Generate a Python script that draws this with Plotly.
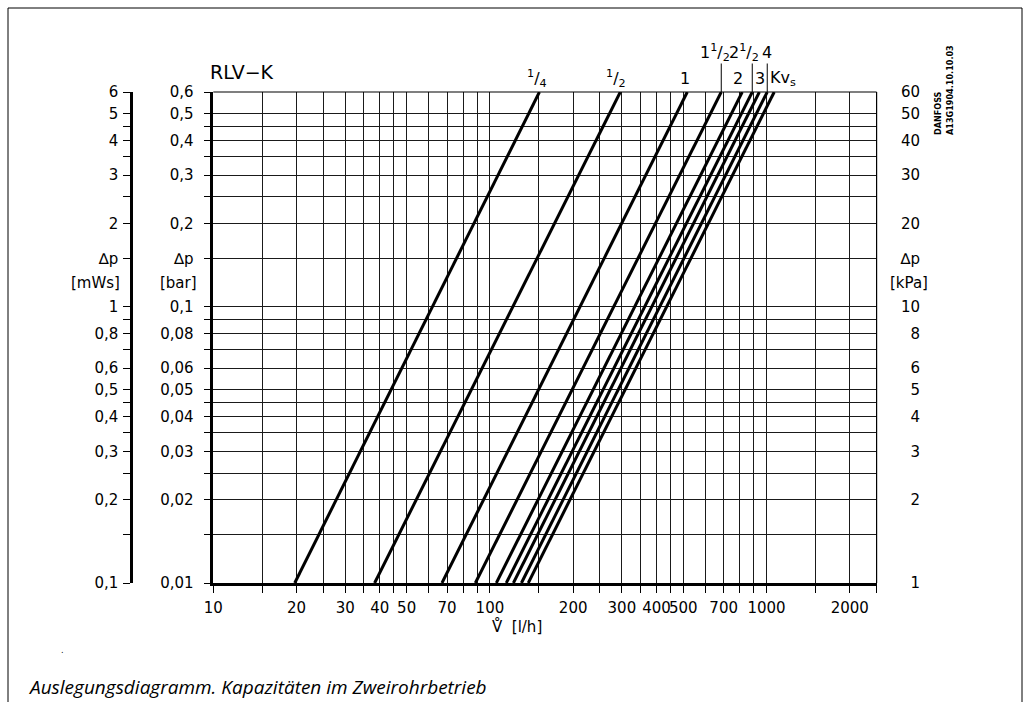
import math
import plotly.graph_objects as go

# ---------------- data ----------------
kv_labels = ["<sup>1</sup>/<sub>4</sub>", "<sup>1</sup>/<sub>2</sub>", "1",
             "1<sup>1</sup>/<sub>2</sub>", "2", "2<sup>1</sup>/<sub>2</sub>", "3", "4",
             "Kv<sub>s</sub>"]
# flow [l/h] where each line crosses dp = 0.01 bar and dp = 0.6 bar
q_at_low = [19.7, 38.3, 67.1, 88.6, 105.5, 114.6, 121.6, 130.0, 137.6]
q_at_high = [151, 296, 517, 686, 817, 888, 942, 1006, 1066]
dp_low = 0.01
dp_high = 0.6

x_grid = [10, 15, 20, 25, 30, 35, 40, 45, 50, 60, 70, 80, 90, 100, 150, 200, 250,
          300, 350, 400, 450, 500, 600, 700, 800, 900, 1000, 1500, 2000, 2500]
x_text = ["10", "", "20", "", "30", "", "40", "", "50", "", "70", "", "", "100", "", "200", "",
          "300", "", "400", "", "500", "", "700", "", "", "1000", "", "2000", ""]

bar_grid = [0.01, 0.015, 0.02, 0.025, 0.03, 0.035, 0.04, 0.045, 0.05, 0.06, 0.07, 0.08, 0.09,
            0.1, 0.15, 0.2, 0.25, 0.3, 0.35, 0.4, 0.45, 0.5, 0.6]
bar_text = ["0,01", "", "0,02", "", "0,03", "", "0,04", "", "0,05", "0,06", "", "0,08", "",
            "0,1", "∆p", "0,2", "", "0,3", "", "0,4", "", "0,5", "0,6"]

mws_grid = [0.1, 0.15, 0.2, 0.25, 0.3, 0.35, 0.4, 0.45, 0.5, 0.6, 0.7, 0.8, 0.9,
            1, 1.5, 2, 2.5, 3, 3.5, 4, 4.5, 5, 6]
mws_text = ["0,1", "", "0,2", "", "0,3", "", "0,4", "", "0,5", "0,6", "", "0,8", "",
            "1", "∆p", "2", "", "3", "", "4", "", "5", "6"]

kpa_vals = [1, 2, 3, 4, 5, 6, 8, 10, 15, 20, 30, 40, 50, 60]
kpa_text = ["1", "2", "3", "4", "5", "6", "8", "10", "∆p", "20", "30", "40", "50", "60"]

unit_label_level_bar = 0.122

# ---------------- layout helpers ----------------
W, H = 1031, 702
ML, MR, MT, MB = 100, 96, 92, 119
PW, PH = W - ML - MR, H - MT - MB


def px_x(px):
    return (px - ML) / PW


def px_y(py):
    return (H - MB - py) / PH


FONT = "DejaVu Sans"
BLACK = "#000000"
GRID = "#1a1a1a"

fig = go.Figure()

for i in range(len(kv_labels)):
    fig.add_trace(go.Scatter(
        x=[q_at_low[i], q_at_high[i]], y=[dp_low, dp_high],
        mode="lines", line=dict(color=BLACK, width=3),
        hoverinfo="skip", showlegend=False))

# invisible anchors so that the secondary pressure scales are drawn
fig.add_trace(go.Scatter(x=[q_at_low[0]], y=[mws_grid[0]], yaxis="y2", mode="markers",
                         marker=dict(opacity=0), hoverinfo="skip", showlegend=False))
fig.add_trace(go.Scatter(x=[q_at_low[0]], y=[kpa_vals[0]], yaxis="y3", mode="markers",
                         marker=dict(opacity=0), hoverinfo="skip", showlegend=False))

fig.update_layout(
    width=W, height=H,
    margin=dict(l=ML, r=MR, t=MT, b=MB, pad=0),
    paper_bgcolor="white", plot_bgcolor="white",
    font=dict(family=FONT, size=15, color=BLACK),
    showlegend=False,
    xaxis=dict(
        type="log", range=[1, math.log10(2500)],
        domain=[px_x(213.3), px_x(876.6)],
        tickmode="array", tickvals=x_grid, ticktext=x_text, tickangle=0,
        showgrid=True, gridcolor=GRID, gridwidth=1,
        showline=True, linecolor=BLACK, linewidth=2.5,
        ticks="outside", ticklen=7, tickwidth=1, tickcolor=BLACK,
        ticklabelstandoff=2,
        zeroline=False, fixedrange=True,
    ),
    yaxis=dict(
        type="log", range=[math.log10(dp_low), math.log10(dp_high)],
        domain=[0, 1], anchor="x",
        tickmode="array", tickvals=bar_grid, ticktext=bar_text,
        showgrid=True, gridcolor=GRID, gridwidth=1,
        showline=True, linecolor=BLACK, linewidth=2.5,
        ticks="outside", ticklen=7, tickwidth=1, tickcolor=BLACK,
        ticklabelstandoff=7,
        zeroline=False, fixedrange=True,
    ),
    yaxis2=dict(
        type="log", range=[math.log10(0.1), math.log10(6)],
        overlaying="y", anchor="free", position=px_x(131), side="left",
        tickmode="array", tickvals=mws_grid, ticktext=mws_text,
        showgrid=False,
        showline=True, linecolor=BLACK, linewidth=2.5,
        ticks="outside", ticklen=7, tickwidth=1, tickcolor=BLACK,
        ticklabelstandoff=2,
        zeroline=False, fixedrange=True,
    ),
    yaxis3=dict(
        type="log", range=[0, math.log10(60)],
        overlaying="y", anchor="free", position=px_x(920), side="left",
        tickmode="array", tickvals=kpa_vals, ticktext=kpa_text,
        showgrid=False, showline=False, ticks="",
        ticklabelstandoff=0,
        zeroline=False, fixedrange=True,
    ),
)

# plot border top/right
fig.add_shape(type="line", xref="x domain", yref="y domain", x0=0, x1=1, y0=1, y1=1,
              line=dict(color=BLACK, width=1.2))
fig.add_shape(type="line", xref="x domain", yref="y domain", x0=1, x1=1, y0=0, y1=1,
              line=dict(color=BLACK, width=1.2))

# outer frame
fig.add_shape(type="line", xref="paper", yref="paper", x0=px_x(8), x1=px_x(8),
              y0=px_y(8), y1=px_y(702), line=dict(color=BLACK, width=1))
fig.add_shape(type="line", xref="paper", yref="paper", x0=px_x(8), x1=px_x(1022),
              y0=px_y(8), y1=px_y(8), line=dict(color=BLACK, width=1))
fig.add_shape(type="line", xref="paper", yref="paper", x0=px_x(1022), x1=px_x(1022),
              y0=px_y(8), y1=px_y(702), line=dict(color=BLACK, width=1))

# Kv labels on top of lines
label_dx = [-2, -4, -2, -6, -4, -8, 1, 0, 9]
label_row = [0, 0, 0, 1, 0, 1, 0, 1, 0]
leader = [False, False, False, True, False, True, False, True, False]
for i, lab in enumerate(kv_labels):
    fig.add_annotation(
        x=math.log10(q_at_high[i]), y=math.log10(dp_high), xref="x", yref="y",
        text=lab, showarrow=False, xanchor="center", yanchor="middle",
        xshift=label_dx[i], yshift=14 if label_row[i] == 0 else 40,
        font=dict(family=FONT, size=16, color=BLACK))
    if leader[i]:
        fig.add_annotation(
            x=math.log10(q_at_high[i]), y=math.log10(dp_high), xref="x", yref="y",
            text="", showarrow=True, arrowhead=0, arrowwidth=1, arrowcolor=BLACK,
            ax=0, ay=-30, standoff=0)

# unit labels
fig.add_annotation(x=px_x(122), y=math.log10(unit_label_level_bar), xref="paper", yref="y",
                   text="[mWs]", showarrow=False, xanchor="right", yanchor="middle",
                   font=dict(family=FONT, size=15))
fig.add_annotation(x=px_x(199), y=math.log10(unit_label_level_bar), xref="paper", yref="y",
                   text="[bar]", showarrow=False, xanchor="right", yanchor="middle",
                   font=dict(family=FONT, size=15))
fig.add_annotation(x=px_x(909), y=math.log10(unit_label_level_bar), xref="paper", yref="y",
                   text="[kPa]", showarrow=False, xanchor="center", yanchor="middle",
                   font=dict(family=FONT, size=15))

# axis title
fig.add_annotation(x=px_x(517), y=px_y(626), xref="paper", yref="paper",
                   text="V\u030A  [l/h]", showarrow=False, xanchor="center", yanchor="middle",
                   font=dict(family=FONT, size=15))

# chart title
fig.add_annotation(x=px_x(208), y=px_y(72), xref="paper", yref="paper",
                   text="RLV\u2212K", showarrow=False, xanchor="left", yanchor="middle",
                   font=dict(family=FONT, size=19))

# drawing id
fig.add_annotation(x=px_x(944), y=px_y(90), xref="paper", yref="paper",
                   text="<b>DANFOSS<br>A13G1904.10.10.03</b>", showarrow=False, textangle=-90,
                   align="left", xanchor="center", yanchor="middle",
                   font=dict(family="Liberation Sans Narrow, DejaVu Sans Condensed", size=9))

# caption
fig.add_annotation(x=px_x(26), y=px_y(687), xref="paper", yref="paper",
                   text="<i>Auslegungsdiagramm. Kapazitäten im Zweirohrbetrieb</i>",
                   showarrow=False, xanchor="left", yanchor="middle",
                   font=dict(family="Open Sans", size=19))
fig.add_annotation(x=px_x(62), y=px_y(650), xref="paper", yref="paper",
                   text=".", showarrow=False, xanchor="center", yanchor="middle",
                   font=dict(family=FONT, size=8))

fig.write_html("out.html",
               config={"displayModeBar": False},
               post_script="document.body.style.margin='0';"
                           "document.body.style.overflow='hidden';")
